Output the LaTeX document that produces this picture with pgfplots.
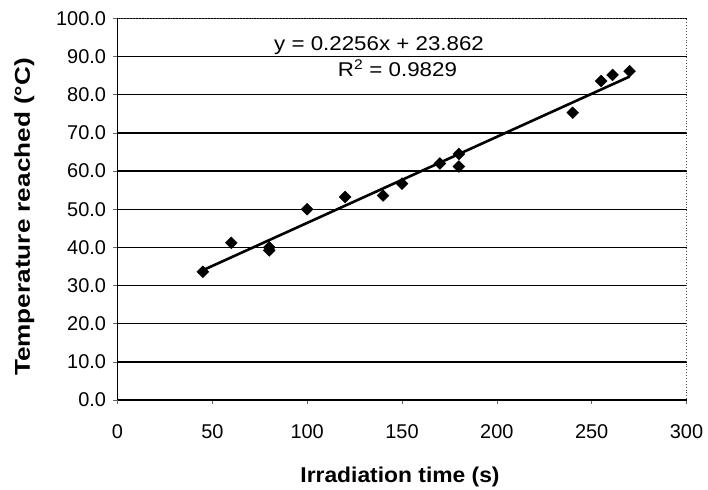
\documentclass[border=0pt]{standalone}
\usepackage{pgfplots}
\pgfplotsset{compat=1.18}
\usepackage{graphicx}
\usepackage{fontspec}
\setmainfont{Liberation Sans}

% Measured temperatures versus irradiation time
\pgfplotstableread{
t    T
45   33.6
60   41.2
80   40.0
80   39.2
100  50.0
120  53.2
140  53.6
150  56.7
170  62.0
180  64.5
180  61.2
240  75.3
255  83.6
261  85.2
270  86.2
}\measured

\begin{document}
\begin{tikzpicture}
\path[use as bounding box] (0,0) rectangle (708bp,490bp);
\begin{axis}[
  at={(117.5bp,90bp)}, anchor=south west,
  scale only axis, width=569bp, height=381.5bp,
  xmin=0, xmax=300, ymin=0, ymax=100,
  xtick={0,50,...,300}, ytick={0,10,...,100},
  axis x line*=bottom, axis y line*=left,
  axis line style={-, black, line width=1.1bp},
  ymajorgrids, major grid style={black, line width=1.4bp},
  tick align=outside, major tick length=4bp,
  tick style={black!60, line width=0.6bp},
  /pgf/number format/assume math mode=true,
  yticklabel style={/pgf/number format/fixed, /pgf/number format/fixed zerofill, /pgf/number format/precision=1, xshift=-4bp},
  ticklabel style={font=\fontsize{20}{23}\selectfont},
  xticklabel style={yshift=-17bp},
  xlabel={\scalebox{1.066}[1]{\textbf{Irradiation time (s)}}},
  ylabel={\scalebox{1.22}[1]{\textbf{Temperature reached (°C)}}},
  label style={font=\fontsize{21.5}{24}\selectfont},
  xlabel style={at={(axis description cs:0.4965,-0.203)}, anchor=center},
  ylabel style={at={(axis description cs:-0.1636,0.48)}, anchor=center},
  clip=false,
]
\draw[black!70, dotted, line width=0.9bp] (rel axis cs:0,1) -- (rel axis cs:1,1) -- (rel axis cs:1,0);
\addplot[black, line width=2.6bp, no marks] coordinates {(45,34.014) (270,84.774)};
\addplot[only marks, mark=square*, mark size=4.2bp, mark options={rotate=45, fill=black, draw=black}] table[x=t, y=T] {\measured};
\node[anchor=base, font=\fontsize{20}{23}\selectfont] at (axis cs:137.9,91.74) {\scalebox{1.12}[1]{y = 0.2256x + 23.862}};
\node[anchor=base, font=\fontsize{20}{23}\selectfont] at (axis cs:147.6,84.67) {\scalebox{1.12}[1]{R\textsuperscript{2} = 0.9829}};
\end{axis}
\end{tikzpicture}
\end{document}
